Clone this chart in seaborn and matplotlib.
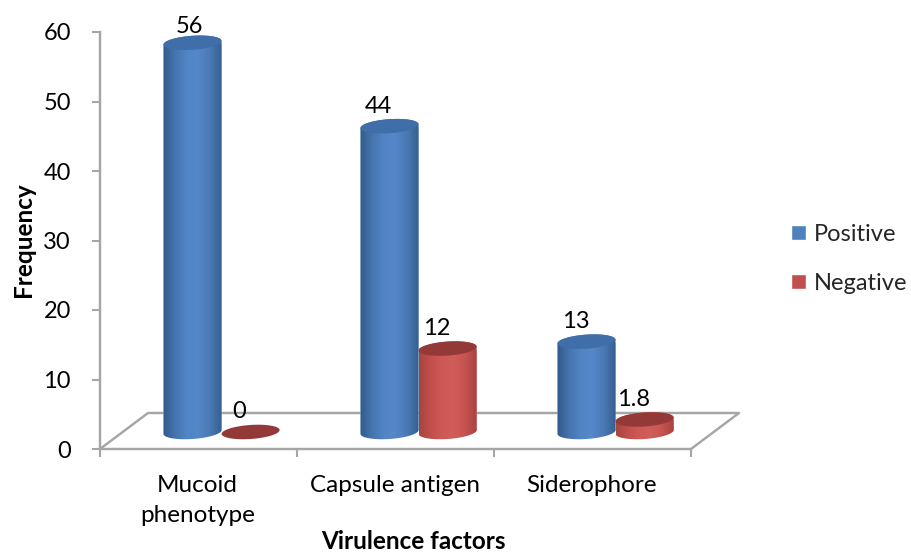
import numpy as np
import pandas as pd
import matplotlib
matplotlib.use('Agg')
import matplotlib.pyplot as plt
from matplotlib.colors import LinearSegmentedColormap
from matplotlib.lines import Line2D
from matplotlib.patches import Polygon
import seaborn as sns

# --- DATA ---
categories = ['Mucoid\nphenotype', 'Capsule antigen', 'Siderophore']
positive = [56, 44, 13]
negative = [0, 12, 1.8]
value_labels = [['56', '44', '13'], ['0', '12', '1.8']]
series_names = ['Positive', 'Negative']
y_ticks = [0, 10, 20, 30, 40, 50, 60]

# --- STYLE ---
sns.set_theme(style='white')
plt.rcParams['font.family'] = ['Lato', 'DejaVu Sans']
GREY = '#a6a6a6'
FLAT = ['#4f81bd', '#c0504d']
TOPS = ['#3f6ea8', '#933a38']
SIDES = [['#2f5a8c', '#4674ad', '#5285c5', '#5587c9', '#4a79b3', '#34608f'],
         ['#a8433f', '#c2504d', '#cd5a56', '#d05d59', '#c5524f', '#a5423f']]
FLOOR_Y = 2.45    # cylinders stand on the floor, above the zero line
X_SHIFT = 0.117   # same reason, the floor is drawn with depth
FS = 17

df = pd.DataFrame({
    'factor': categories * 2,
    'frequency': positive + negative,
    'result': [series_names[0]] * 3 + [series_names[1]] * 3,
})

fig = plt.figure(figsize=(9.11, 5.52), dpi=100)
ax = fig.add_axes([100 / 911, (552 - 449) / 552, 591 / 911, 417 / 552])

sns.barplot(data=df, x='factor', y='frequency', hue='result', palette=FLAT,
            width=0.59, saturation=1, errorbar=None, ax=ax, zorder=3)

x_left = -0.5 - X_SHIFT
ax.set_xlim(x_left, x_left + 3)
ax.set_ylim(0, 60)
px_x = 197.0           # pixels per category
px_y = 417 / 60.0      # pixels per unit


def ellipse(cx, cy, a, b, t):
    # tilted ellipse, worked out in pixels and returned in data units
    tilt = np.radians(4)
    dx = a * np.cos(t) * np.cos(tilt) - b * np.sin(t) * np.sin(tilt)
    dy = a * np.cos(t) * np.sin(tilt) + b * np.sin(t) * np.cos(tilt)
    return np.column_stack([cx + dx / px_x, cy + dy / px_y])


# --- CYLINDERS ---
z = 4
for s, container in enumerate(ax.containers):
    cmap_side = LinearSegmentedColormap.from_list('side', SIDES[s])
    for i, bar in enumerate(container):
        bar.set_y(FLOOR_Y)
        x0, w = bar.get_x(), bar.get_width()
        cx = x0 + w / 2
        base, top = bar.get_y(), bar.get_y() + bar.get_height()
        a, b = w * px_x / 2, 7

        lower = ellipse(cx, base, a, b, np.linspace(np.pi, 2 * np.pi, 40))
        upper = ellipse(cx, top, a, b, np.linspace(0, np.pi, 40))
        body = Polygon(np.vstack([lower, upper]), transform=ax.transData)
        bar.set_clip_path(body)
        if bar.get_height() > 0:
            img = ax.imshow(np.linspace(0, 1, 128).reshape(1, -1), cmap=cmap_side,
                            extent=[x0, x0 + w, base - 2, top + 2], aspect='auto',
                            zorder=z)
            img.set_clip_path(body)
        cap = Polygon(ellipse(cx, top, a, b, np.linspace(0, 2 * np.pi, 80)),
                      facecolor=TOPS[s], edgecolor='none', zorder=z + 1)
        ax.add_patch(cap)
        z += 2

        nudge = -3 if (s, i) == (0, 0) else -11
        lift = 12 if (s, i) == (0, 0) else 14.5
        ax.annotate(value_labels[s][i], (cx, top), xytext=(nudge * 0.72, lift),
                    textcoords='offset points', ha='center', va='center',
                    fontsize=FS, color='black', zorder=30, annotation_clip=False)

ax.set_xlim(x_left, x_left + 3)
ax.set_ylim(0, 60)

# --- FLOOR ---
floor_x = [x_left, x_left + 48 / px_x, x_left + 3 + 48 / px_x, x_left + 3]
floor_y = [0, 36 / px_y, 36 / px_y, 0]
ax.add_line(Line2D(floor_x, floor_y, color=GREY, lw=1.75, clip_on=False, zorder=1))

# --- AXES ---
for side in ['top', 'right']:
    ax.spines[side].set_visible(False)
for side in ['left', 'bottom']:
    ax.spines[side].set_color(GREY)
    ax.spines[side].set_linewidth(1.75)

ax.set_yticks(y_ticks)
ax.set_xticks([x_left + k for k in range(4)])
ax.set_xticklabels([])
ax.set_xticks([x_left + k + 0.495 for k in range(3)], minor=True)
ax.set_xticklabels(categories, minor=True, linespacing=1.55)
ax.tick_params(axis='both', which='major', left=True, bottom=True, length=6,
               width=1.5, color=GREY, labelsize=FS, labelcolor='black', pad=15)
ax.tick_params(axis='x', which='minor', length=0, labelsize=17.5, labelcolor='black', pad=18.5)

ax.set_xlabel('Virulence factors', fontsize=17.5, fontweight='bold', color='black')
ax.xaxis.set_label_coords(0.531, -0.195)
ax.set_ylabel('Frequency', fontsize=17.5, fontweight='bold', color='black')
ax.yaxis.set_label_coords(-0.11, 0.503)

# --- LEGEND ---
handles, labels = ax.get_legend_handles_labels()
ax.legend(handles, labels, loc='center left', bbox_to_anchor=(1.169, 0.456), frameon=False,
          fontsize=FS, handlelength=0.63, handleheight=0.63, handletextpad=0.34,
          labelspacing=1.2, borderpad=0, borderaxespad=0)

fig.savefig('out.png', dpi=100)
